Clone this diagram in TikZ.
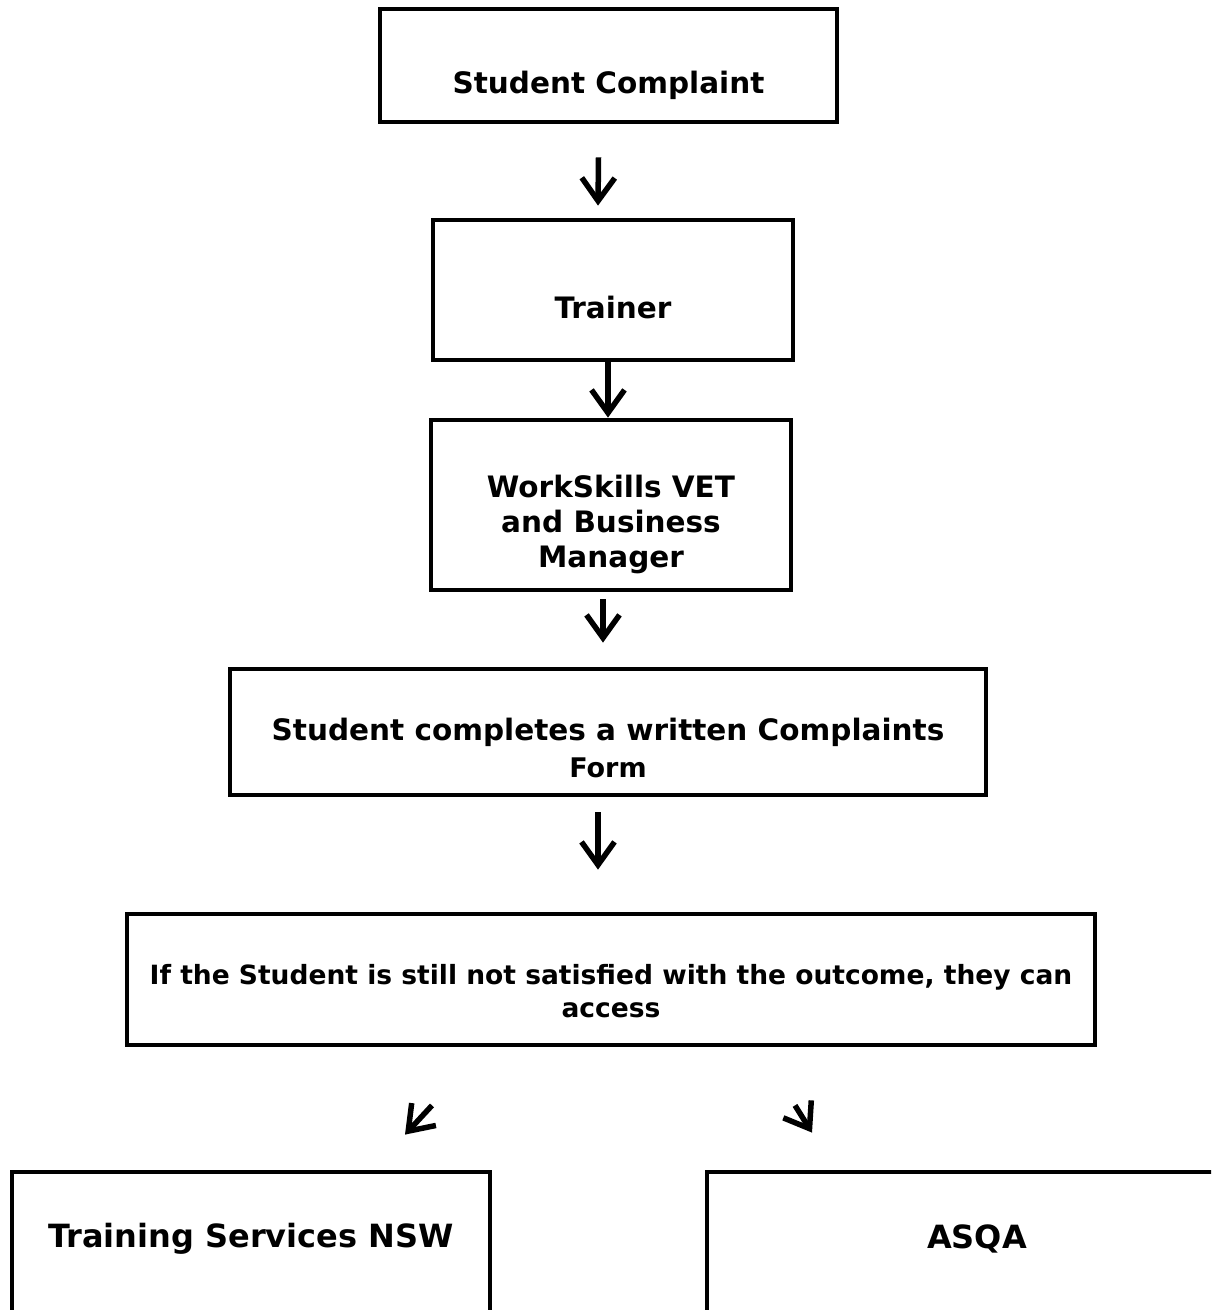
\documentclass[tikz,border=0pt]{standalone}
\usepackage{fontspec}
\setmainfont{DejaVu Sans}
\usetikzlibrary{arrows.meta,calc}
\begin{document}
\begin{tikzpicture}[x=1pt,y=-1pt,
  box/.style={draw,line width=4.8pt,rectangle,inner sep=0pt},
  big/.style={font=\bfseries\fontsize{29.5}{35}\selectfont,align=center},
  small/.style={font=\bfseries\fontsize{26.5}{33}\selectfont,align=center},
  huge/.style={font=\bfseries\fontsize{32}{38}\selectfont,align=center},
  arr/.style={line width=5.5pt,-{Straight Barb[length=23pt,width=33pt,line width=5.5pt]}}]
\useasboundingbox (0,0) rectangle (1211,1310);
\clip (0,0) rectangle (1211,1310);
\fill[white] (0,0) rectangle (1211,1310);

\node[box,minimum width=457pt,minimum height=113pt,
  label={[big,yshift=-20pt]center:Student Complaint}] (b1) at (608.5,65.5) {};
\node[box,minimum width=360pt,minimum height=140pt,
  label={[big,yshift=-17pt]center:Trainer}] (b2) at (613,290) {};
\node[box,minimum width=360pt,minimum height=170pt,
  label={[big,yshift=-19pt]center:WorkSkills VET\\and Business\\Manager}] (b3) at (611,505) {};
\node[box,minimum width=756pt,minimum height=126pt,
  label={[big,yshift=-16pt]center:Student completes a written Complaints\\[2pt]{\fontsize{27}{33}\selectfont Form}}] (b4) at (608,732) {};
\node[box,minimum width=968pt,minimum height=131pt,
  label={[small,yshift=-12pt]center:If the Student is still not satisfied with the outcome, they can\\access}] (b5) at (611,979.5) {};
\node[box,minimum width=478pt,minimum height=228pt,
  label={[huge,yshift=47pt]center:Training Services NSW}] (b6) at (251,1286) {};
\node[box,minimum width=540pt,minimum height=228pt,
  label={[huge,yshift=47pt]center:ASQA}] (b7) at (977,1286) {};

\draw[arr] ($(b1.south)+(-10,33)$) -- ($(b2.north)+(-15,-12)$);
\draw[arr] ($(b2.south)+(-5,0)$) -- ($(b3.north)+(-3,0)$);
\draw[arr] ($(b3.south)+(-8,7)$) -- ($(b4.north)+(-5,-24)$);
\draw[arr] ($(b4.south)+(-10,15)$) -- ($(b5.north)+(-13,-42)$);
\draw[arr] ($(b5.south)+(-179,58)$) -- ($(b6.north)+(154,-35)$);
\draw[arr] ($(b5.south)+(184,58)$) -- ($(b7.north)+(-165,-37)$);
\end{tikzpicture}
\end{document}
